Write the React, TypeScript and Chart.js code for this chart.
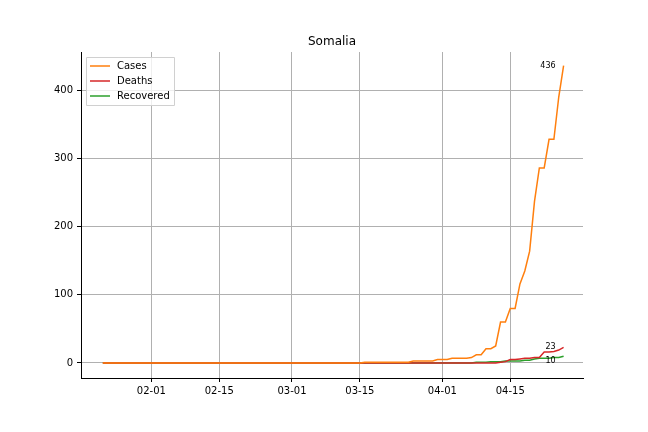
import React, { useEffect, useRef } from "react";
import { Chart, registerables } from "chart.js";

Chart.register(...registerables);

const startDate = new Date(2020, 0, 22);
const dayCount = 96; // 01-22 .. 04-26
const tickDays = [10, 24, 39, 53, 70, 84];
const yTicks = [0, 100, 200, 300, 400];

const cases = [
  ...Array(54).fill(0),
  1, 1, 1, 1, 1, 1, 1, 1, 1, 1, 3, 3, 3, 3, 3, 5, 5, 5, 7, 7, 7, 7, 8, 12, 12,
  21, 21, 25, 60, 60, 80, 80, 116, 135, 164, 237, 286, 286, 328, 328, 390, 436,
];
const deaths = [
  ...Array(77).fill(0),
  0, 0, 0, 0, 0, 1, 2, 5, 5, 6, 7, 7, 8, 8, 16, 16, 17, 19, 23,
];
const recovered = [
  ...Array(77).fill(0),
  1, 1, 1, 2, 2, 2, 3, 3, 3, 3, 4, 4, 6, 7, 7, 7, 8, 8, 10,
];

const seriesNames = ["Cases", "Deaths", "Recovered"];
const seriesColors = ["#ff7f0e", "#d62728", "#2ca02c"];

const fmtDay = (d: number) => {
  const dt = new Date(startDate.getTime() + d * 86400000);
  return String(dt.getMonth() + 1).padStart(2, "0") + "-" + String(dt.getDate()).padStart(2, "0");
};

const font = "DejaVu Sans";

const overlay = {
  id: "overlay",
  afterDatasetsDraw(chart: any) {
    const { ctx, chartArea } = chart;
    ctx.save();
    ctx.fillStyle = "#000";
    ctx.font = `12px "${font}"`;
    ctx.textAlign = "center";
    ctx.textBaseline = "middle";
    ctx.fillText("Somalia", (chartArea.left + chartArea.right) / 2, 42);

    // end labels
    ctx.font = `8px "${font}"`;
    ctx.textAlign = "right";
    const offsets = [0, 0, 5];
    chart.data.datasets.forEach((ds: any, i: number) => {
      const meta = chart.getDatasetMeta(i);
      const pt = meta.data[meta.data.length - 1];
      const v = ds.data[ds.data.length - 1].y;
      ctx.fillText(String(v), pt.x - 8, pt.y + offsets[i]);
    });

    // legend box
    const bx = chartArea.left + 5, by = chartArea.top + 5;
    ctx.fillStyle = "rgba(255,255,255,0.8)";
    ctx.strokeStyle = "#d0d0d0";
    ctx.lineWidth = 1;
    ctx.beginPath();
    ctx.rect(bx + 0.5, by + 0.5, 88, 48);
    ctx.fill();
    ctx.stroke();
    ctx.font = `10px "${font}"`;
    ctx.textAlign = "left";
    seriesNames.forEach((n, i) => {
      const y = by + 9 + i * 15;
      ctx.strokeStyle = seriesColors[i];
      ctx.lineWidth = 1.5;
      ctx.beginPath();
      ctx.moveTo(bx + 4, y);
      ctx.lineTo(bx + 24, y);
      ctx.stroke();
      ctx.fillStyle = "#000";
      ctx.fillText(n, bx + 31, y);
    });
    ctx.restore();
  },
};

export default function App() {
  const ref = useRef<HTMLCanvasElement | null>(null);

  useEffect(() => {
    document.body.style.margin = "0";
    if (!ref.current) return;
    const series = [cases, deaths, recovered];
    const chart = new Chart(ref.current, {
      type: "line",
      data: {
        datasets: series.map((s, i) => ({
          label: seriesNames[i],
          data: s.slice(0, dayCount).map((v, d) => ({ x: d, y: v })),
          borderColor: seriesColors[i],
          borderWidth: 1.5,
          pointRadius: 0,
          tension: 0,
          fill: false,
        })),
      },
      options: {
        animation: false,
        responsive: false,
        layout: { padding: { top: 52, right: 65, left: 0, bottom: 0 } },
        plugins: { legend: { display: false }, title: { display: false }, tooltip: { enabled: false } },
        scales: {
          x: {
            type: "linear",
            min: -4.5,
            max: 99,
            afterBuildTicks: (s: any) => {
              s.ticks = tickDays.map((v) => ({ value: v }));
            },
            afterFit: (s: any) => {
              s.height = 54;
            },
            ticks: {
              color: "#000",
              font: { family: font, size: 10 },
              callback: (v: any) => fmtDay(Number(v)),
              maxRotation: 0,
              padding: 3,
            },
            grid: { color: "#b0b0b0", tickLength: 4, tickColor: "#000" },
            border: { color: "#000" },
          },
          y: {
            min: -22,
            max: 456,
            afterBuildTicks: (s: any) => {
              s.ticks = yTicks.map((v) => ({ value: v }));
            },
            afterFit: (s: any) => {
              s.width = 81;
            },
            ticks: { color: "#000", font: { family: font, size: 10 }, padding: 4 },
            grid: { color: "#b0b0b0", tickLength: 4, tickColor: "#000" },
            border: { color: "#000" },
          },
        },
      },
      plugins: [overlay],
    });
    return () => chart.destroy();
  }, []);

  return <canvas ref={ref} width={648} height={432} style={{ display: "block" }} />;
}
